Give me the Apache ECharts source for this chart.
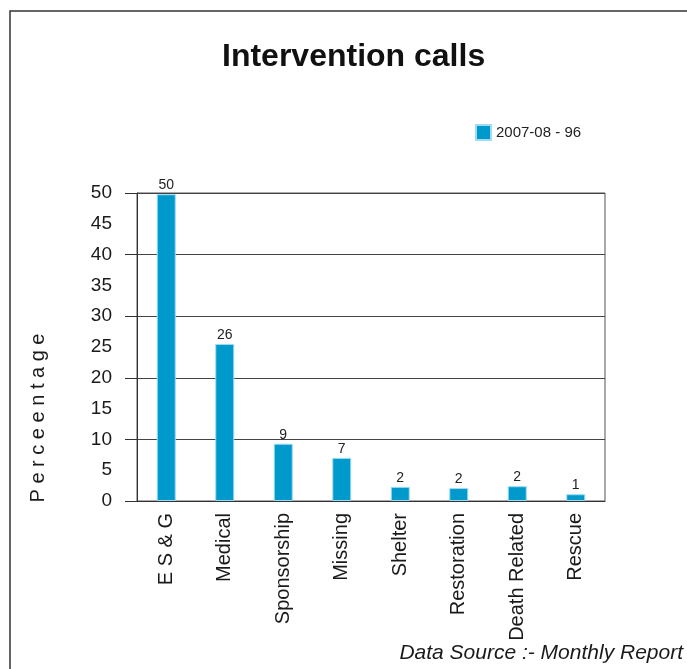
<!DOCTYPE html>
<html>
<head>
<meta charset="utf-8">
<script src="https://cdn.jsdelivr.net/npm/echarts@6/dist/echarts.min.js"></script>
<style>
html, body { margin: 0; padding: 0; background: #fff; }
#chart { width: 687px; height: 669px; }
</style>
</head>
<body>
<div id="chart"></div>
<script>
// categories and values
const categories = ['E S & G', 'Medical', 'Sponsorship', 'Missing', 'Shelter', 'Restoration', 'Death Related', 'Rescue']
const values = [49.8, 25.5, 9.3, 7.0, 2.3, 2.1, 2.4, 1.1]
const valueLabels = [50, 26, 9, 7, 2, 2, 2, 1]
const seriesName = '2007-08 - 96'

const font = 'Liberation Sans, Arial, sans-serif'

echarts.init(document.getElementById('chart')).setOption({
	animation: false,
	title: {
		text: 'Intervention calls',
		left: 217,
		top: 36,
		textStyle: { fontFamily: font, fontSize: 32, fontWeight: 'bold', color: '#111' }
	},
	legend: {
		left: 470,
		top: 119,
		icon: 'rect',
		itemWidth: 15,
		itemHeight: 15,
		itemGap: 10,
		textStyle: { fontFamily: font, fontSize: 15, color: '#222' },
		data: [seriesName]
	},
	grid: {
		left: 137,
		right: 82,
		top: 193,
		bottom: 168,
		show: true,
		borderColor: '#555',
		borderWidth: 1
	},
	xAxis: {
		type: 'category',
		data: categories,
		axisLine: { lineStyle: { color: '#333' } },
		axisTick: { length: 9, lineStyle: { color: '#333' } },
		axisLabel: {
			rotate: 90,
			margin: 12,
			interval: 0,
			fontFamily: font,
			fontSize: 20,
			color: '#1a1a1a'
		}
	},
	yAxis: [
		{
			type: 'value',
			min: 0,
			max: 50,
			interval: 5,
			axisLine: { show: true, lineStyle: { color: '#333' } },
			axisTick: { show: false },
			splitLine: { show: false },
			axisLabel: { margin: 25, fontFamily: font, fontSize: 19, color: '#1a1a1a' }
		},
		{
			type: 'value',
			position: 'left',
			min: 0,
			max: 50,
			interval: 10,
			axisLine: { show: false },
			axisTick: { show: true, length: 12, lineStyle: { color: '#333' } },
			axisLabel: { show: false },
			splitLine: { show: true, lineStyle: { color: '#444', width: 1 } }
		}
	],
	graphic: [
		{
			type: 'rect',
			shape: { x: 10, y: 11, width: 720, height: 700 },
			style: { fill: 'none', stroke: '#333', lineWidth: 1.5 },
			silent: true
		},
		{
			type: 'text',
			x: 38,
			y: 418,
			rotation: Math.PI / 2,
			style: {
				text: 'P e r c e e n t a g e',
				fontFamily: font,
				fontSize: 20,
				fill: '#1a1a1a',
				align: 'center',
				verticalAlign: 'middle'
			}
		},
		{
			type: 'text',
			right: 4,
			top: 643,
			style: {
				text: 'Data Source :- Monthly Report',
				fontFamily: font,
				fontSize: 21,
				fontStyle: 'italic',
				fill: '#1a1a1a'
			}
		}
	],
	series: [
		{
			type: 'bar',
			name: seriesName,
			barWidth: 19,
			data: values,
			itemStyle: { color: '#0099cc', borderColor: '#9fdcf2', borderWidth: 1 },
			label: {
				show: true,
				position: 'top',
				distance: 2,
				fontFamily: font,
				fontSize: 14,
				color: '#222',
				formatter: p => valueLabels[p.dataIndex]
			}
		}
	]
})
</script>
</body>
</html>
